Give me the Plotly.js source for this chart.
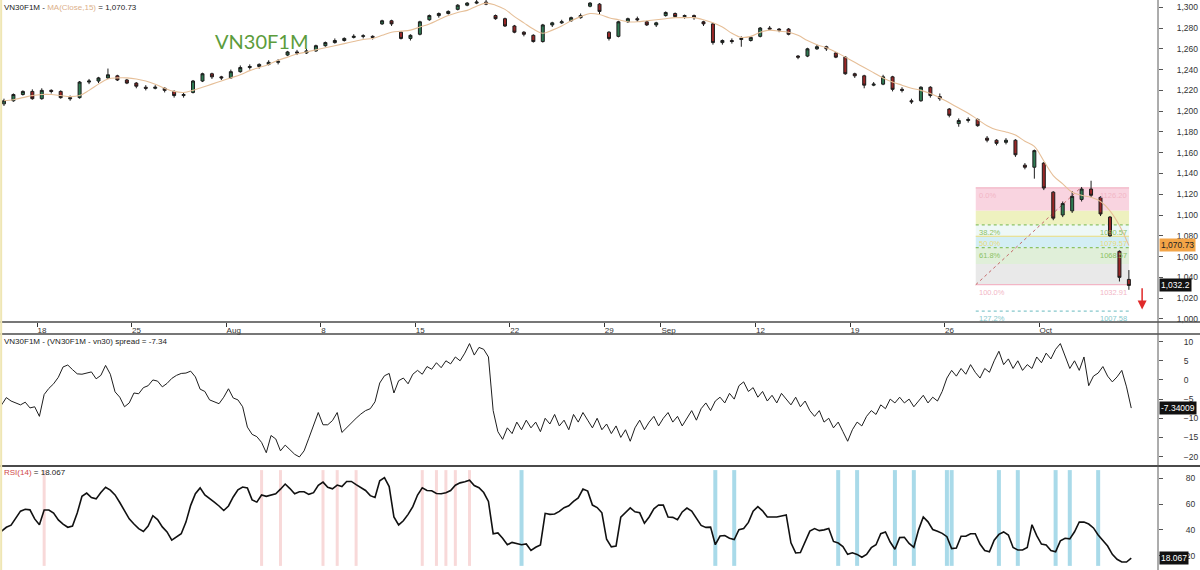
<!DOCTYPE html>
<html><head><meta charset="utf-8">
<script src="https://cdn.plot.ly/plotly-3.0.1.min.js"></script>
<style>html,body{margin:0;padding:0;background:#fff}#chart{width:1200px;height:570px}</style>
</head><body><div id="chart"></div>
<script>
// ---------------- DATA ----------------
const barOpen = [1207,1210,1216,1219,1212,1220,1219,1213,1213,1228, 1229,1232,1234,1230,1227,1223,1222,1222,1219,1215,
 1218,1229,1236,1233,1232,1238,1242,1243,1245,1247, 1254,1257,1256,1258,1263,1266,1268,1271,1272,1272,
 1284,1287,1276,1270,1274,1288,1292,1294,1298,1302, 1304,1305,1292,1289,1282,1276,1273,1267,1283,1285,
 1287,1290,1301,1303,1276,1272,1286,1289,1286,1283, 1292,1294,1291,1292,1286,1284,1266,1268,1269,1268,
 1272,1280,1279,1279,1253,1253,1260,1262,1256,1252, 1236,1234,1225,1226,1233,1221,1210,1210,1223,1214,
 1202,1188,1191,1192,1174,1172,1170,1172,1148,1146, 1150,1122,1100,1104,1115,1125,1117,1098,1065,1038];
const barClose = [1210,1216,1219,1212,1220,1219,1213,1212,1228,1229, 1232,1235,1230,1227,1224,1222,1223,1220,1215,1216,
 1229,1236,1233,1232,1238,1242,1243,1245,1247,1248, 1257,1256,1258,1263,1266,1268,1270,1272,1272.5,1271,
 1287,1284,1270,1273,1286,1292,1294,1296,1302,1304, 1305,1303,1289,1282,1276,1274,1267,1283,1285,1286,
 1290,1292,1304,1296,1270,1286,1289,1288,1283,1285, 1295,1291,1292,1290,1284,1266,1268,1267,1270,1271,
 1280,1279,1278,1274,1252,1260,1262,1260,1252,1236, 1234,1225,1226,1233,1221,1220,1209,1223,1215,1212,
 1196,1191,1192,1186,1172,1169,1172,1158,1146,1162, 1126,1097,1111,1118,1125,1119,1101,1080,1040,1032.2];
const barHigh = [1212,1217,1220,1221,1222,1221,1220,1215,1229,1231, 1233,1241,1235,1231,1228,1225,1225,1223,1220,1218,
 1230,1237,1237,1234,1240,1244,1245,1246,1249,1250, 1258,1259,1260,1264,1267,1270,1271,1274,1274,1273,
 1288,1288,1277,1274,1287,1293,1295,1297,1303,1305, 1308,1307,1293,1290,1283,1277,1274,1284,1286,1288,
 1291,1294,1305,1304,1277,1287,1290,1291,1287,1286, 1296,1295,1293,1293,1287,1285,1269,1270,1272,1272,
 1281,1282,1280,1280,1254,1261,1264,1263,1257,1253, 1237,1235,1228,1235,1234,1223,1212,1224,1224,1217,
 1203,1193,1194,1193,1176,1173,1174,1173,1150,1163, 1151,1123,1113,1123,1127,1133,1118,1099,1066,1047];
const barLow = [1205,1209,1215,1211,1211,1217,1212,1210,1212,1226, 1227,1231,1229,1226,1222,1220,1221,1218,1213,1213,
 1217,1228,1231,1230,1231,1237,1240,1241,1244,1245, 1253,1254,1255,1257,1262,1265,1267,1270,1270,1269,
 1283,1282,1269,1268,1273,1287,1290,1293,1297,1301, 1303,1302,1288,1281,1275,1272,1266,1266,1281,1284,
 1286,1289,1300,1293,1268,1271,1285,1286,1282,1281, 1291,1290,1289,1288,1282,1264,1264,1265,1262,1267,
 1271,1278,1276,1273,1250,1252,1259,1258,1251,1235, 1232,1222,1224,1225,1219,1218,1207,1209,1213,1210,
 1194,1185,1189,1185,1170,1167,1168,1156,1144,1135, 1124,1095,1098,1102,1113,1117,1099,1079,1036,1028];
const ma15 = [1210,1211,1213,1215,1216,1216,1215,1214,1215,1220, 1226,1231,1232,1232,1231,1229,1226,1222,1219,1218,
 1220,1223,1226,1229,1232,1235,1239,1242,1245,1249, 1252,1255,1257,1259,1261,1263,1265,1267,1269,1270,
 1273,1276,1277,1278,1281,1284,1288,1292,1295,1297, 1301,1304,1302,1298,1291,1285,1279,1275,1278,1282,
 1287,1291,1294,1293,1290,1288,1286,1286,1287,1288, 1289,1290,1290,1290,1288,1285,1281,1275,1271,1272,
 1276,1278,1277,1276,1273,1268,1264,1261,1257,1252, 1247,1242,1237,1232,1228,1225,1222,1220,1217,1213,
 1208,1203,1198,1192,1186,1182,1180,1177,1171,1166, 1152,1138,1130,1122,1119,1117,1113,1104,1090,1070.73];
const spread = [-6.5,-4.6,-5.5,-6.0,-6.5,-5.8,-7.3,-7.0,-9.5,-3.8, -2.2,-1.0,0.7,3.4,3.9,2.7,1.6,1.5,1.9,2.1,
 0.3,1.2,3.8,1.5,-3.1,-4.5,-7.0,-6.0,-3.4,-3.6, -2.0,-1.5,0.0,-0.3,-1.8,-0.9,0.4,1.2,1.7,1.8,
 2.3,0.8,-2.4,-3.0,-5.2,-5.8,-6.2,-4.5,-2.3,-4.7, -5.2,-7.0,-12.3,-14.2,-14.8,-16.3,-19.0,-14.5,-15.4,-18.5,
 -17.0,-18.2,-19.4,-20.1,-18.5,-15.2,-12.0,-8.5,-11.7,-11.7, -10.6,-8.5,-13.7,-12.4,-11.3,-10.0,-8.9,-8.0,-7.5,-5.7,
 -0.8,1.1,1.7,-3.4,-0.2,0.5,-1,1.5,2.5,1.5, 3.5,2.8,4.5,3.2,5.0,4.2,6.0,5.0,7.0,9.5,
 6.5,8.5,8.0,6.0,-8,-13.5,-15.5,-12.5,-14,-11, -13,-10.5,-12.5,-11,-13.5,-10,-11.5,-9,-12,-10.5,
 -13,-9,-11,-8.5,-10.5,-12.5,-10,-13,-11.5,-14, -12,-15,-13,-16,-12.5,-10.5,-13,-11,-9.5,-12,
 -10,-8.5,-11,-9.5,-12,-10,-8,-10.5,-7.5,-6, -8,-5.5,-4.5,-6,-3.5,-5,-1.5,-0.5,-3,-2,
 -4.5,-3,-5.5,-4,-6,-3.5,-5,-6.5,-4.5,-7, -5.5,-8,-9.5,-8,-11,-10,-12.5,-11,-13.5,-16,
 -13,-11,-12,-9.5,-8,-9,-6.5,-7.5,-5,-6, -4.5,-6,-5,-7,-5.5,-4,-6,-4.5,-5.5,-3,
 0.5,2.5,1,3,1.5,4,2,0.5,3,2, 5,7.5,4,5.5,3,5,2.5,4,3,6,
 4.5,7,5.5,8,9.5,6,3,5,2.5,6, -1.5,1,1.8,3.5,1,-0.5,0.8,2.5,-1.8,-7.34];
const rsi14 = [39,42,43.6,49,54.5,56,55.5,48.5,44,55.4, 55.4,53,47.7,44.5,42,43,53,66,68.5,65,
 64,69,73,70.8,67.1,61.2,54.5,48.5,44.5,41, 38.8,43,51,48,42.3,38.4,32,34.5,37,46,
 59,68,72.5,67,64.5,61.5,58.5,55,58.5,65.5, 71,73.2,72.5,63.2,61.5,67,66,67,68,71.5,
 75.5,72,68,69.5,69.5,67.5,68.8,74.5,77,73, 71.8,74.7,73.5,77.5,77.5,75,72.8,70.5,66.5,65.1,
 78,80.5,73.5,50,43.8,47,52,58,67,72.5, 70.5,70.3,68.2,68,68.8,70.5,74.6,76.4,77.3,78.5,
 74.3,72.6,68.9,62,37,37.6,33.5,28.4,30.3,29.6, 28.5,29.1,24,26.5,28.3,52.8,52,52.3,54.3,57.2,
 58.6,62,64.7,71.6,70,59.2,57.3,53.2,32.7,26.8, 27.5,49.8,53.1,57,54,53.2,45.1,50,56.3,59.3,
 59.2,50,49.7,47.9,53.9,56.9,54.5,48.5,43.4,41.9, 42.1,28.5,35.2,35.6,33.5,32.5,40.1,41.1,45.8,54.5,
 58,54.7,50,50,50,50.8,51.6,30,22.1,22.5, 31,39,41,39.4,40,41,31,29.8,27,21,
 22.2,21,18.8,21,26.2,28.5,37,38.4,30.6,25, 34,34.3,29.5,26.5,40,50,46.2,40.3,39,37.3,
 34.7,25.5,26,35,35,37,37,29,24,23, 32,36.5,38.4,36,26.3,24.4,24.4,26.3,44,35.5,
 29,28.3,24,23,31.5,33.5,33,38.5,46.1,46, 44.5,41.5,36,31.8,27.5,21,17.2,15.1,15.1,18.067];
// session index (trading day) of each date tick, and its label
const tickDays = [2,7,12,17,22,27,32,35,40,45,50,55];
const tickLabels = ['18','25','Aug','8','15','22','29','Sep','12','19','26','Oct'];
// RSI signal points (index in the RSI series)
const rsiHighSignals = [9,55,59,68,71,75,89,92,94,96,99];
const rsiLowSignals = [110,151,155,177,181,189,193,200,201,211,215,223,226,232];
// Fibonacci retracement
const fibHigh = 1126.2, fibLow = 1032.9;
const fibLevels = [0, 0.236, 0.382, 0.5, 0.618, 0.786, 1];
const fibLabelLevels = [0, 0.382, 0.5, 0.618, 1, 1.272];
const fibPctLabels = ['0.0%','38.2%','50.0%','61.8%','100.0%','127.2%'];
const fibValLabels = ['1126.20','1090.57','1079.57','1068.57','1032.91','1007.58'];
const fibStartDay = 51.65, fibEndDay = 59.76, fibPeakDay = 57.2;
const lastMA = 1070.73, lastClose = 1032.2, lastSpread = -7.34009, lastRSI = 18.067;

// ---------------- BUILD ----------------
const BARS_PER_DAY = 2, PTS_PER_DAY = 4;
const barX = barOpen.map((_, i) => (i + 0.5) / BARS_PER_DAY);
const lineX = spread.map((_, j) => (j + 0.5) / PTS_PER_DAY);

const FONT = 'Liberation Sans, Arial, sans-serif';
const traces = [
  {type:'candlestick', x:barX, open:barOpen, high:barHigh, low:barLow, close:barClose,
   xaxis:'x', yaxis:'y', whiskerwidth:0, hoverinfo:'skip',
   increasing:{line:{color:'#1d1d1d', width:1}, fillcolor:'#2e7a52'},
   decreasing:{line:{color:'#1d1d1d', width:1}, fillcolor:'#9a2727'}},
  {type:'scatter', mode:'lines', x:barX, y:ma15, xaxis:'x', yaxis:'y',
   line:{color:'#e6bf98', width:1.1, shape:'spline'}, hoverinfo:'skip'},
  {type:'scatter', mode:'lines', x:lineX, y:spread, xaxis:'x2', yaxis:'y2',
   line:{color:'#1e1e1e', width:1}, hoverinfo:'skip'},
  {type:'scatter', mode:'lines', x:lineX, y:rsi14, xaxis:'x3', yaxis:'y3',
   line:{color:'#111', width:1.6}, hoverinfo:'skip'}
];

const shapes = [];
const bandColors = ['#f9d4e0','#eef1bf','#eef8f6','#d3eef4','#e0efd9','#e9e9e9'];
for (let k = 0; k < fibLevels.length - 1; k++) {
  shapes.push({type:'rect', xref:'x', yref:'y', layer:'below', line:{width:0},
    x0:fibStartDay, x1:fibEndDay,
    y0:fibHigh - fibLevels[k]*(fibHigh-fibLow), y1:fibHigh - fibLevels[k+1]*(fibHigh-fibLow),
    fillcolor:bandColors[k]});
}
const lvlColors = ['#f2b6c6','#8cc264','#eadb7a','#8cc264','#f2b6c6','#86c8cc'];
const lvlDash = ['solid','dot','solid','dot','solid','dot'];
fibLabelLevels.forEach((lv, k) => {
  shapes.push({type:'line', xref:'x', yref:'y', layer:'below', x0:fibStartDay, x1:fibEndDay,
    y0:fibHigh - lv*(fibHigh-fibLow), y1:fibHigh - lv*(fibHigh-fibLow),
    line:{color:lvlColors[k], width:1.2, dash:lvlDash[k]}});
});
shapes.push({type:'line', xref:'x', yref:'y', layer:'below', x0:fibStartDay, y0:fibLow, x1:fibPeakDay, y1:fibHigh,
  line:{color:'#c46a6a', width:1, dash:'dot'}});
rsiHighSignals.forEach(j => shapes.push({type:'line', xref:'x3', yref:'y3 domain', layer:'below',
  x0:lineX[j], x1:lineX[j], y0:0.04, y1:0.97, line:{color:'rgba(240,170,170,0.45)', width:3}}));
rsiLowSignals.forEach(j => shapes.push({type:'line', xref:'x3', yref:'y3 domain', layer:'below',
  x0:lineX[j], x1:lineX[j], y0:0.04, y1:0.97, line:{color:'rgba(140,205,225,0.75)', width:4}}));
// frame lines
const H = 570, W = 1158;
const py = p => 1 - p / H;
[[322,1.5],[334,1.5],[466,2]].forEach(([p,w]) => shapes.push({type:'line', xref:'paper', yref:'paper',
  x0:0, x1:1200/W, y0:py(p), y1:py(p), line:{color:'#4a4a4a', width:w}}));
shapes.push({type:'line', xref:'paper', yref:'paper', x0:1, x1:1, y0:0, y1:1, line:{color:'#5a5a5a', width:1}});
shapes.push({type:'line', xref:'paper', yref:'paper', x0:0.001, x1:0.001, y0:0, y1:1, line:{color:'#efe6b4', width:2}});

const ann = [];
const hdr = (txt, p) => ({xref:'paper', yref:'paper', x:0.002, y:py(p), xanchor:'left', yanchor:'top',
  text:txt, showarrow:false, font:{family:FONT, size:8, color:'#222'}});
ann.push(hdr('VN30F1M - <span style="color:#dcb08a">MA(Close,15)</span> = 1,070.73', 1));
ann.push(hdr('VN30F1M - (VN30F1M - vn30) spread = -7.34', 335));
ann.push(hdr('<span style="color:#d04848">RSI(14)</span> = 18.067', 466));
ann.push({xref:'paper', yref:'paper', x:213/W, y:py(41), xanchor:'left', yanchor:'middle', text:'VN30F1M',
  showarrow:false, font:{family:'Lato, Open Sans, sans-serif', size:20, color:'#5c9c3c'}});
fibLabelLevels.forEach((lv, k) => {
  const yv = fibHigh - lv*(fibHigh-fibLow);
  ann.push({xref:'x', yref:'y', x:fibStartDay, y:yv, xanchor:'left', yanchor:'top', yshift:-1, xshift:1,
    text:fibPctLabels[k], showarrow:false, font:{family:FONT, size:7.5, color:lvlColors[k]}});
  ann.push({xref:'x', yref:'y', x:fibEndDay, y:yv, xanchor:'right', yanchor:'top', yshift:-1,
    text:fibValLabels[k], showarrow:false, font:{family:FONT, size:7.5, color:lvlColors[k]}});
});
ann.push({xref:'x', yref:'y', axref:'x', ayref:'y', x:60.45, y:1009, ax:60.45, ay:1031, text:'',
  showarrow:true, arrowhead:2, arrowsize:1.2, arrowwidth:1.5, arrowcolor:'#e02a2a'});
const box = (yr, v, txt, bg, fg) => ({xref:'paper', yref:yr, x:1, y:v, xanchor:'left', yanchor:'middle',
  xshift:1, text:txt, showarrow:false, bgcolor:bg, borderpad:1, font:{family:FONT, size:8.5, color:fg}});
ann.push(box('y', lastMA, '1,070.73', '#f3a446', '#222'));
ann.push(box('y', lastClose, '1,032.2', '#111', '#fff'));
ann.push(box('y2', lastSpread, '-7.34009', '#111', '#fff'));
ann.push(box('y3', lastRSI, '18.067', '#111', '#fff'));

const yCommon = {side:'right', showgrid:false, zeroline:false, showline:false, ticks:'outside', ticklen:4,
  tickcolor:'#555', tickfont:{family:FONT, size:8.5, color:'#333'}, fixedrange:true};
const layout = {
  width:1200, height:570, margin:{l:0, r:42, t:0, b:0},
  paper_bgcolor:'#fff', plot_bgcolor:'#fff', showlegend:false, boxgap:0.55,
  font:{family:FONT, size:9, color:'#333'},
  xaxis:{domain:[0,1], range:[0.04,61.29], anchor:'y', tickvals:tickDays, ticktext:tickLabels,
    ticks:'outside', ticklen:4, tickcolor:'#333', ticklabelposition:'outside right',
    tickfont:{family:FONT, size:8, color:'#333'}, showline:false, showgrid:false, zeroline:false,
    rangeslider:{visible:false}, fixedrange:true},
  xaxis2:{matches:'x', anchor:'y2', visible:false},
  xaxis3:{matches:'x', anchor:'y3', visible:false},
  yaxis:Object.assign({}, yCommon, {domain:[1-322/H, 1], range:[997,1307], tickvals:[1000,1020,1040,1060,1080,1100,1120,1140,1160,1180,1200,1220,1240,1260,1280,1300], tickformat:',d', ticklabelstandoff:12}),
  yaxis2:Object.assign({}, yCommon, {domain:[1-465/H, 1-334/H], range:[-22.2,12.0], tickvals:[-20,-15,-10,-5,0,5,10], ticklabelstandoff:19}),
  yaxis3:Object.assign({}, yCommon, {domain:[0, 1-467/H], range:[8.9,88.7], tickvals:[20,40,60,80], ticklabelstandoff:21}),
  shapes:shapes, annotations:ann
};
Plotly.newPlot('chart', traces, layout, {staticPlot:true, displayModeBar:false});
</script></body></html>
